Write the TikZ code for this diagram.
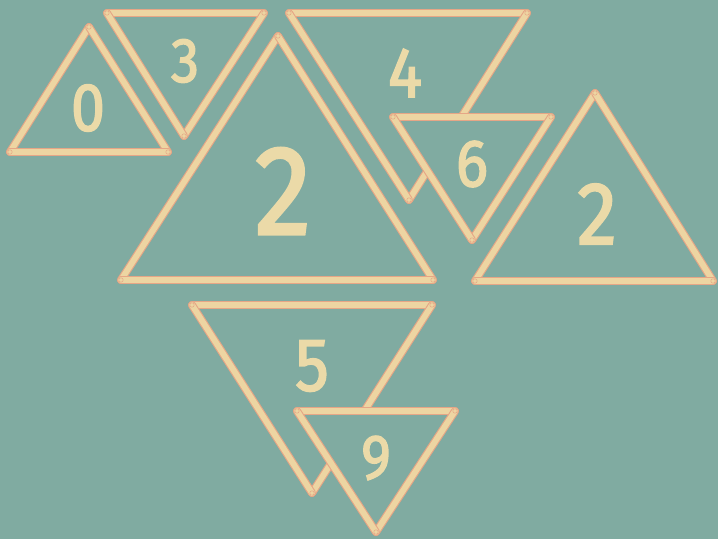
\documentclass[tikz,border=0pt]{standalone}
\usepackage{fontspec}
\setmainfont{Fira Sans}
\newfontfamily\chalkfont[FakeBold=2.2]{Fira Sans}
\usepackage{tikz}
\usetikzlibrary{calc}

\definecolor{boardteal}{HTML}{80ABA1}
\definecolor{stickwood}{HTML}{EDD5A2}
\definecolor{stickrim}{HTML}{E6A686}
\definecolor{chalk}{HTML}{EBDAA8}

% one matchstick between two named points
\newcommand{\stick}[2]{%
    \draw[stickrim line] (#1) -- (#2);
    \draw[stickwood line] (#1) -- (#2);
    \draw[stickhead] (#1) circle (2.2) (#2) circle (2.2);
}
% three sticks laid as a triangle
\newcommand{\sticktri}[3]{\stick{#1}{#2}\stick{#2}{#3}\stick{#3}{#1}}

\begin{document}
\begin{tikzpicture}[
    x=1pt, y=-1pt,
    % --- STYLES ---
    stickrim line/.style={draw=stickrim, line width=8pt, line cap=round},
    stickwood line/.style={draw=stickwood, line width=5.8pt, line cap=round},
    stickhead/.style={draw=stickrim, line width=0.5pt},
    cover/.style={fill=boardteal},
    digit/.style={text=chalk, inner sep=0pt, anchor=center, xscale=0.9}
]

% ===== 1. BOARD =====
\fill[boardteal] (0,0) rectangle (718,539);
\useasboundingbox (0,0) rectangle (718,539);

% ===== 2. CORNERS OF THE TRIANGLES =====
% triangle 0 (apex up)
\coordinate (t0a) at (89,27);
\coordinate (t0l) at (10,152);
\coordinate (t0r) at (168,152);
% triangle 3 (apex down)
\coordinate (t3l) at (107,13);
\coordinate (t3r) at (264,13);
\coordinate (t3b) at (184,136);
% big triangle 2 (apex up)
\coordinate (t2a) at (278,36);
\coordinate (t2l) at (121,280);
\coordinate (t2r) at (433,280);
% triangle 4 (apex down)
\coordinate (t4l) at (289,13);
\coordinate (t4r) at (527,13);
\coordinate (t4b) at (409,200);
% triangle 6 (apex down)
\coordinate (t6l) at (393,117);
\coordinate (t6r) at (551,117);
\coordinate (t6b) at (472,240);
% right triangle 2 (apex up)
\coordinate (u2a) at (595,93);
\coordinate (u2l) at (475,281);
\coordinate (u2r) at (713,281);
% triangle 5 (apex down)
\coordinate (t5l) at (192,305);
\coordinate (t5r) at (432,305);
\coordinate (t5b) at (312,493);
% triangle 9 (apex down)
\coordinate (t9l) at (297,411);
\coordinate (t9r) at (455,411);
\coordinate (t9b) at (376,532);

% ===== 3. STICKS (back to front) =====
\sticktri{t0l}{t0a}{t0r}
\sticktri{t3l}{t3r}{t3b}
\sticktri{t2l}{t2a}{t2r}
\sticktri{t4l}{t4r}{t4b}

% triangle 6 lies over triangle 4
\fill[cover] (t6l) -- (t6r) -- (t6b) -- cycle;
\sticktri{t6l}{t6r}{t6b}

\sticktri{u2l}{u2a}{u2r}
\sticktri{t5l}{t5r}{t5b}

% triangle 9 lies over triangle 5
\fill[cover] (t9l) -- (t9r) -- (t9b) -- cycle;
\sticktri{t9l}{t9r}{t9b}

% ===== 4. DIGITS =====
\node[digit, font=\chalkfont\fontsize{68}{68}\selectfont] (d0) at (88,108) {0};
\node[digit, font=\chalkfont\fontsize{63}{63}\selectfont] (d3) at (185,61) {3};
\node[digit, font=\chalkfont\fontsize{127}{127}\selectfont] (d2big) at (283,191) {2};
\node[digit, font=\chalkfont\fontsize{71}{71}\selectfont] (d4) at (405,73) {4};
\node[digit, font=\chalkfont\fontsize{67}{67}\selectfont] (d6) at (472,164) {6};
\node[digit, font=\chalkfont\fontsize{89}{89}\selectfont] (d2right) at (597,214) {2};
\node[digit, font=\chalkfont\fontsize{75}{75}\selectfont] (d5) at (312,366) {5};
\node[digit, font=\chalkfont\fontsize{63}{63}\selectfont] (d9) at (376,458) {9};

\end{tikzpicture}
\end{document}
